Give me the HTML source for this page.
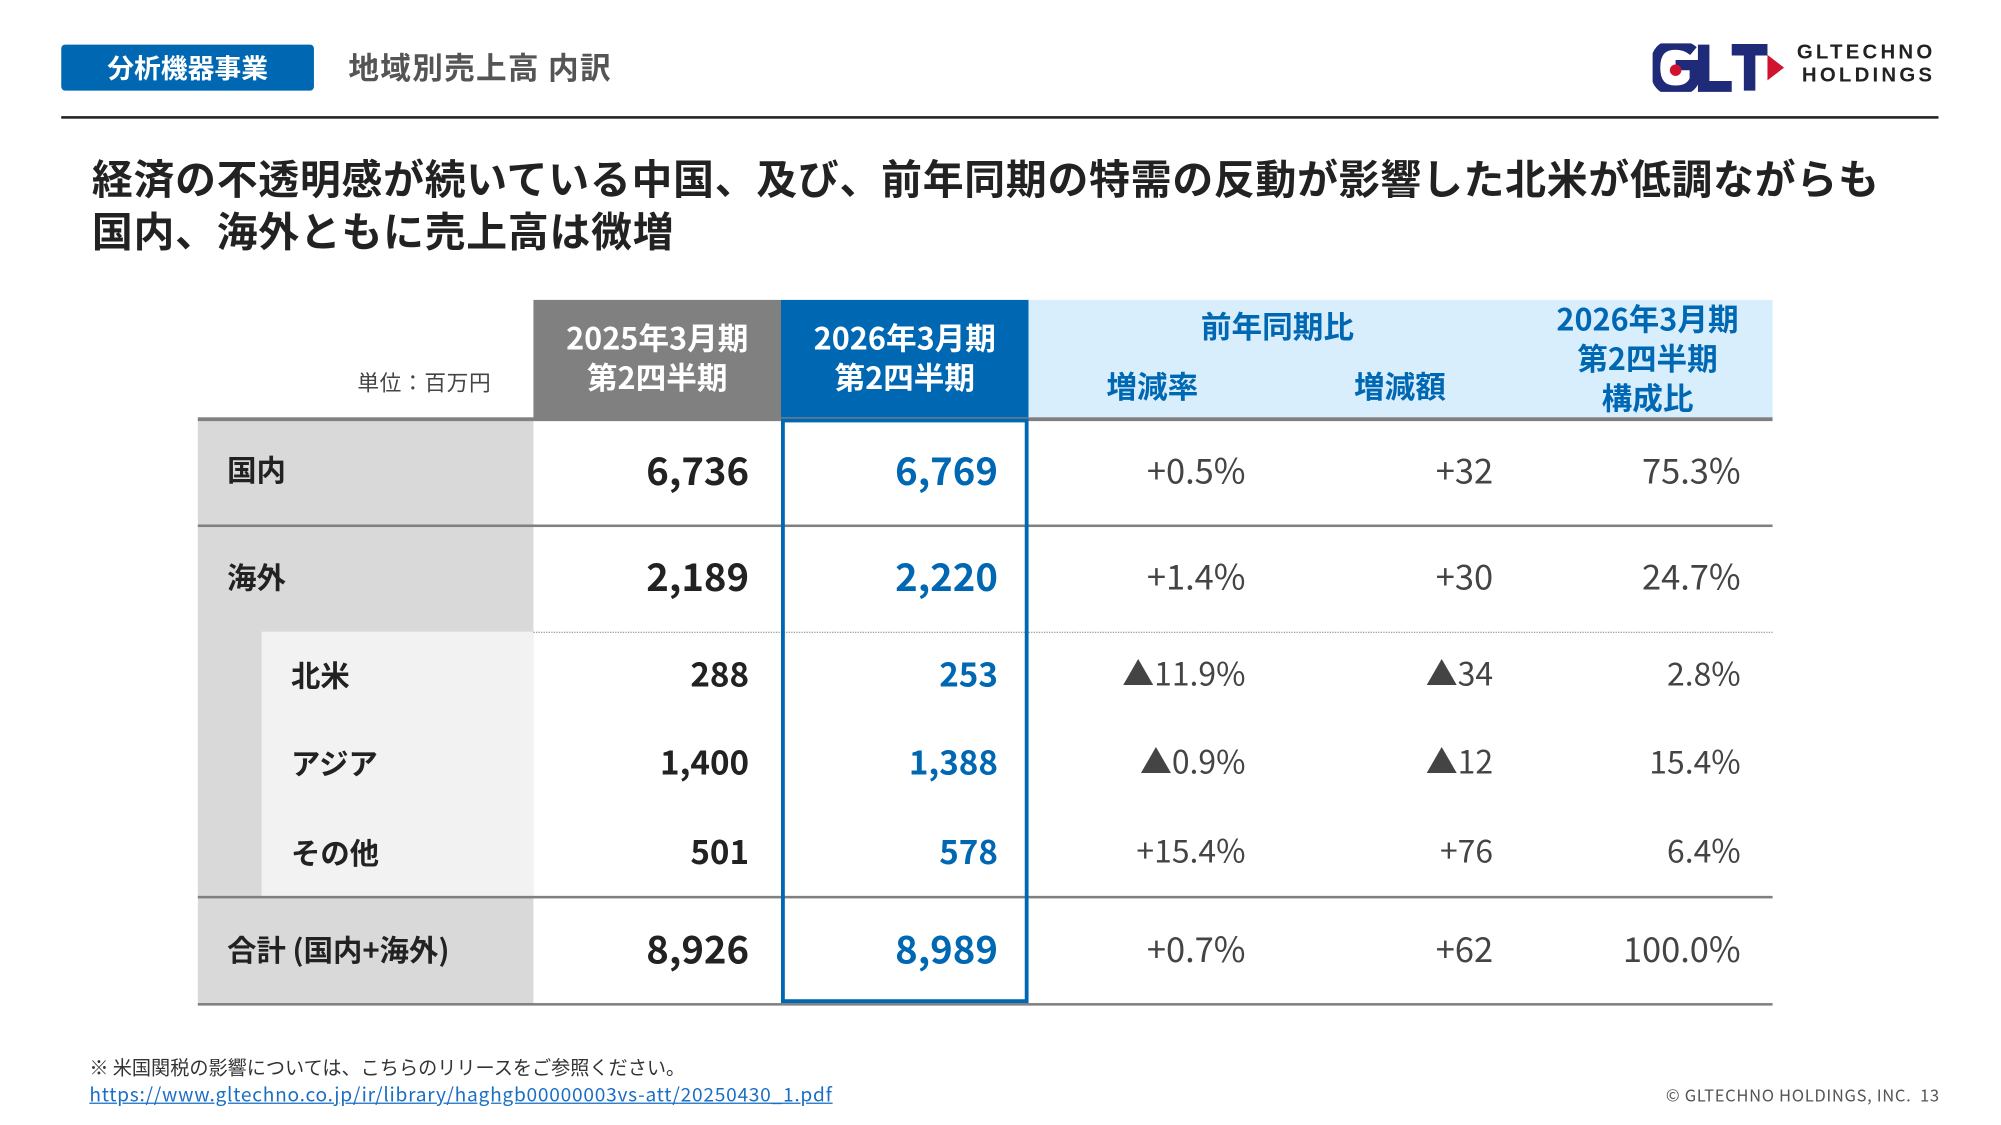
<!DOCTYPE html>
<html><head><meta charset="utf-8">
<style>
html,body{margin:0;padding:0;background:#fff;width:2001px;height:1125px;overflow:hidden}
#w{position:absolute;left:0;top:0;width:1568px;height:881px;transform:scale(1.27615);transform-origin:0 0;font-family:"Liberation Sans","Noto Sans CJK JP",sans-serif;color:#222}
.a{position:absolute;white-space:nowrap}
.bx{position:absolute}
.num{position:absolute;text-align:right;white-space:nowrap;font-family:"Noto Sans CJK JP",sans-serif}
.lbl{position:absolute;font-weight:bold;font-family:"Noto Sans CJK JP",sans-serif;white-space:nowrap}
.hd{position:absolute;text-align:center;font-weight:bold;font-family:"Noto Sans CJK JP",sans-serif;line-height:31px}
</style></head><body><div id="w">
<div class="bx" style="left:48px;top:35px;width:198px;height:36px;background:#0068b3;border-radius:3px"></div>
<div class="a" style="left:48px;top:35px;width:198px;line-height:36px;text-align:center;color:#fff;font-weight:bold;font-size:21px;font-family:'Noto Sans CJK JP',sans-serif">分析機器事業</div>
<div class="a" style="left:273px;top:35px;line-height:34px;color:#555;font-size:24px;letter-spacing:1px;font-weight:bold;font-family:'Noto Sans CJK JP',sans-serif">地域別売上高 内訳</div>
<svg class="bx" style="left:1295px;top:34px" width="105" height="38" viewBox="0 0 105 38">
<path d="M32 6 Q26 1 18 1 Q2 1 2 19 Q2 37 18 37 Q30 37 33 28 L33 17 L18 17" fill="none" stroke="#1f2a78" stroke-width="8"/>
<circle cx="18" cy="21" r="4.5" fill="#d0132f"/>
<path d="M40 1 V34 H62" fill="none" stroke="#1f2a78" stroke-width="9"/>
<path d="M62 5 H90 M76 5 V37" fill="none" stroke="#1f2a78" stroke-width="9"/>
<polygon points="90,9 103,19 90,29" fill="#d0132f"/>
</svg>
<div class="a" style="left:1408px;top:33px;font-size:16px;font-weight:bold;letter-spacing:2.5px;line-height:18px;color:#222">GLTECHNO<br><span style="padding-left:4px">HOLDINGS</span></div>
<div class="bx" style="left:48px;top:91px;width:1471px;height:2px;background:#222"></div>
<div class="a" style="left:72px;top:119px;font-size:32px;letter-spacing:0.6px;font-weight:bold;line-height:41px;color:#222;font-family:'Noto Sans CJK JP',sans-serif">経済の不透明感が続いている中国、及び、前年同期の特需の反動が影響した北米が低調ながらも<br>国内、海外ともに売上高は微増</div>

<div class="bx" style="left:418px;top:235px;width:194px;height:93px;background:#808080"></div>
<div class="bx" style="left:612px;top:235px;width:194px;height:93px;background:#0068b3"></div>
<div class="bx" style="left:806px;top:235px;width:583px;height:93px;background:#d9eefc"></div>
<div class="hd" style="left:418px;top:248px;width:194px;color:#fff;font-size:24px">2025年3月期<br>第2四半期</div>
<div class="hd" style="left:612px;top:248px;width:194px;color:#fff;font-size:24px">2026年3月期<br>第2四半期</div>
<div class="hd" style="left:806px;top:239px;width:390px;color:#0068b3;font-size:24px">前年同期比</div>
<div class="hd" style="left:806px;top:286px;width:194px;color:#0068b3;font-size:24px">増減率</div>
<div class="hd" style="left:1000px;top:286px;width:194px;color:#0068b3;font-size:24px">増減額</div>
<div class="hd" style="left:1194px;top:233px;width:194px;color:#0068b3;font-size:24px">2026年3月期<br>第2四半期<br>構成比</div>
<div class="a" style="left:280px;top:286px;font-size:17px;letter-spacing:0.5px;color:#444;font-family:'Noto Sans CJK JP',sans-serif">単位：百万円</div>

<div class="bx" style="left:155px;top:328px;width:263px;height:459px;background:#d9d9d9"></div>
<div class="bx" style="left:205px;top:495px;width:213px;height:208px;background:#f2f2f2"></div>
<div class="bx" style="left:155px;top:327px;width:1234px;height:3px;background:#808080"></div>
<div class="bx" style="left:155px;top:411px;width:1234px;height:2px;background:#808080"></div>
<div class="bx" style="left:418px;top:495px;width:971px;height:0;border-top:1px dotted #999"></div>
<div class="bx" style="left:155px;top:702px;width:1234px;height:2px;background:#808080"></div>
<div class="bx" style="left:155px;top:786px;width:1234px;height:2px;background:#808080"></div>
<div class="bx" style="left:612px;top:328px;width:188px;height:452px;border:3px solid #0068b3"></div>

<div class="lbl" style="left:178px;top:350px;font-size:23px">国内</div>
<div class="lbl" style="left:178px;top:434px;font-size:23px">海外</div>
<div class="lbl" style="left:228px;top:511px;font-size:23px">北米</div>
<div class="lbl" style="left:228px;top:580px;font-size:23px">アジア</div>
<div class="lbl" style="left:228px;top:650px;font-size:23px">その他</div>
<div class="lbl" style="left:178px;top:726px;font-size:23px">合計 (国内+海外)</div>

<div class="num" style="right:981px;top:345px;font-size:30px;font-weight:bold">6,736</div>
<div class="num" style="right:786px;top:345px;font-size:30px;font-weight:bold;color:#0068b3">6,769</div>
<div class="num" style="right:592px;top:348px;font-size:27px;color:#444">+0.5%</div>
<div class="num" style="right:398px;top:348px;font-size:27px;color:#444">+32</div>
<div class="num" style="right:204px;top:348px;font-size:27px;color:#444">75.3%</div>

<div class="num" style="right:981px;top:428px;font-size:30px;font-weight:bold">2,189</div>
<div class="num" style="right:786px;top:428px;font-size:30px;font-weight:bold;color:#0068b3">2,220</div>
<div class="num" style="right:592px;top:431px;font-size:27px;color:#444">+1.4%</div>
<div class="num" style="right:398px;top:431px;font-size:27px;color:#444">+30</div>
<div class="num" style="right:204px;top:431px;font-size:27px;color:#444">24.7%</div>

<div class="num" style="right:981px;top:509px;font-size:26px;font-weight:bold">288</div>
<div class="num" style="right:786px;top:509px;font-size:26px;font-weight:bold;color:#0068b3">253</div>
<div class="num" style="right:592px;top:509px;font-size:25px;color:#444">▲11.9%</div>
<div class="num" style="right:398px;top:509px;font-size:25px;color:#444">▲34</div>
<div class="num" style="right:204px;top:509px;font-size:25px;color:#444">2.8%</div>

<div class="num" style="right:981px;top:578px;font-size:26px;font-weight:bold">1,400</div>
<div class="num" style="right:786px;top:578px;font-size:26px;font-weight:bold;color:#0068b3">1,388</div>
<div class="num" style="right:592px;top:578px;font-size:25px;color:#444">▲0.9%</div>
<div class="num" style="right:398px;top:578px;font-size:25px;color:#444">▲12</div>
<div class="num" style="right:204px;top:578px;font-size:25px;color:#444">15.4%</div>

<div class="num" style="right:981px;top:648px;font-size:26px;font-weight:bold">501</div>
<div class="num" style="right:786px;top:648px;font-size:26px;font-weight:bold;color:#0068b3">578</div>
<div class="num" style="right:592px;top:648px;font-size:25px;color:#444">+15.4%</div>
<div class="num" style="right:398px;top:648px;font-size:25px;color:#444">+76</div>
<div class="num" style="right:204px;top:648px;font-size:25px;color:#444">6.4%</div>

<div class="num" style="right:981px;top:720px;font-size:30px;font-weight:bold">8,926</div>
<div class="num" style="right:786px;top:720px;font-size:30px;font-weight:bold;color:#0068b3">8,989</div>
<div class="num" style="right:592px;top:723px;font-size:27px;color:#444">+0.7%</div>
<div class="num" style="right:398px;top:723px;font-size:27px;color:#444">+62</div>
<div class="num" style="right:204px;top:723px;font-size:27px;color:#444">100.0%</div>

<div class="a" style="left:70px;top:826px;font-size:15px;color:#333;font-family:'Noto Sans CJK JP',sans-serif">※ 米国関税の影響については、こちらのリリースをご参照ください。</div>
<div class="a" style="left:70px;top:847px;font-size:15px;letter-spacing:0.58px;color:#1a6fc4;text-decoration:underline;font-family:'Noto Sans CJK JP',sans-serif">https://www.gltechno.co.jp/ir/library/haghgb00000003vs-att/20250430_1.pdf</div>
<div class="a" style="right:48px;top:848px;font-size:13px;letter-spacing:0.5px;color:#555;font-family:'Noto Sans CJK JP',sans-serif">© GLTECHNO HOLDINGS, INC.&nbsp;&nbsp;13</div>
</div></body></html>
